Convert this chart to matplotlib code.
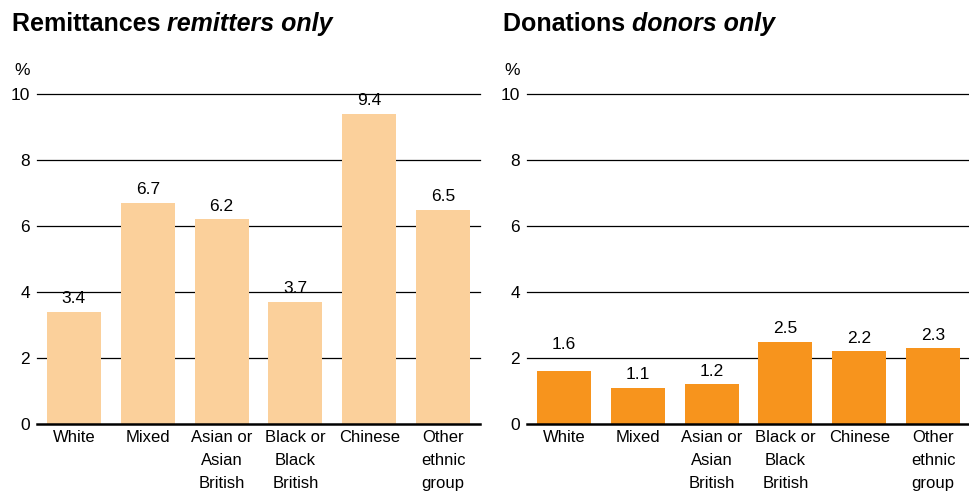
import matplotlib
matplotlib.use("Agg")
import matplotlib.pyplot as plt
import numpy as np

plt.rcParams['font.family'] = ['Liberation Sans', 'DejaVu Sans']

# Data
categories = ["White", "Mixed", "Asian or\nAsian\nBritish", "Black or\nBlack\nBritish",
              "Chinese", "Other\nethnic\ngroup"]
remittances = [3.4, 6.7, 6.2, 3.7, 9.4, 6.5]
donations = [1.6, 1.1, 1.2, 2.5, 2.2, 2.3]
y_ticks = [0, 2, 4, 6, 8, 10]

# Style
light_orange = '#FBD09B'
dark_orange = '#F7941D'
W, H = 970, 497
fs = 12.5

fig = plt.figure(figsize=(W / 100, H / 100), dpi=100)
fig.patch.set_facecolor('white')

# axes placed in pixel terms: plot area from y=94 (10) to y=424 (0)
ax_bottom = (H - 424) / H
ax_height = (424 - 94) / H
ax_width = 443 / W
ax1 = fig.add_axes([37 / W, ax_bottom, ax_width, ax_height])
ax2 = fig.add_axes([527 / W, ax_bottom, ax_width, ax_height])


def draw_panel(ax, values, color, label_pads):
    x = np.arange(len(values))
    ax.set_xlim(-0.5, len(values) - 0.5)
    ax.set_ylim(0, 10)
    for t in y_ticks[1:]:
        ax.axhline(t, color='black', linewidth=0.9, zorder=1, clip_on=False)
    ax.axhline(0, color='black', linewidth=1.8, zorder=3, clip_on=False)
    bars = ax.bar(x, values, width=0.73, color=color, zorder=2)
    for b, v, pad in zip(bars, values, label_pads):
        ax.annotate(f"{v:.1f}", (b.get_x() + b.get_width() / 2, v),
                    xytext=(0, pad), textcoords='offset points',
                    ha='center', va='bottom', fontsize=fs)
    for s in ax.spines.values():
        s.set_visible(False)
    ax.set_yticks(y_ticks)
    ax.set_yticklabels([str(t) for t in y_ticks], fontsize=fs)
    ax.set_xticks(x)
    ax.set_xticklabels(categories, fontsize=12, linespacing=1.7, va='top')
    ax.tick_params(axis='both', length=0)
    ax.tick_params(axis='y', pad=5)
    ax.tick_params(axis='x', pad=4)
    ax.annotate('%', (0, 1), xycoords='axes fraction', xytext=(-5, 17),
                textcoords='offset points', ha='right', va='center', fontsize=fs)


draw_panel(ax1, remittances, light_orange, [4, 4, 4, 4, 4, 4])
draw_panel(ax2, donations, dark_orange, [14, 4, 4, 4, 4, 4])


def two_part_title(x_px, plain, italic):
    renderer = fig.canvas.get_renderer()
    y = (H - 31) / H
    t1 = fig.text(x_px / W, y, plain + " ", fontsize=18, fontweight='bold', va='baseline')
    bb = t1.get_window_extent(renderer=renderer)
    fig.text(bb.x1 / W, y, italic, fontsize=18, fontweight='bold',
             fontstyle='italic', va='baseline')


two_part_title(12, "Remittances", "remitters only")
two_part_title(503, "Donations", "donors only")

fig.savefig('out.png', dpi=100)
